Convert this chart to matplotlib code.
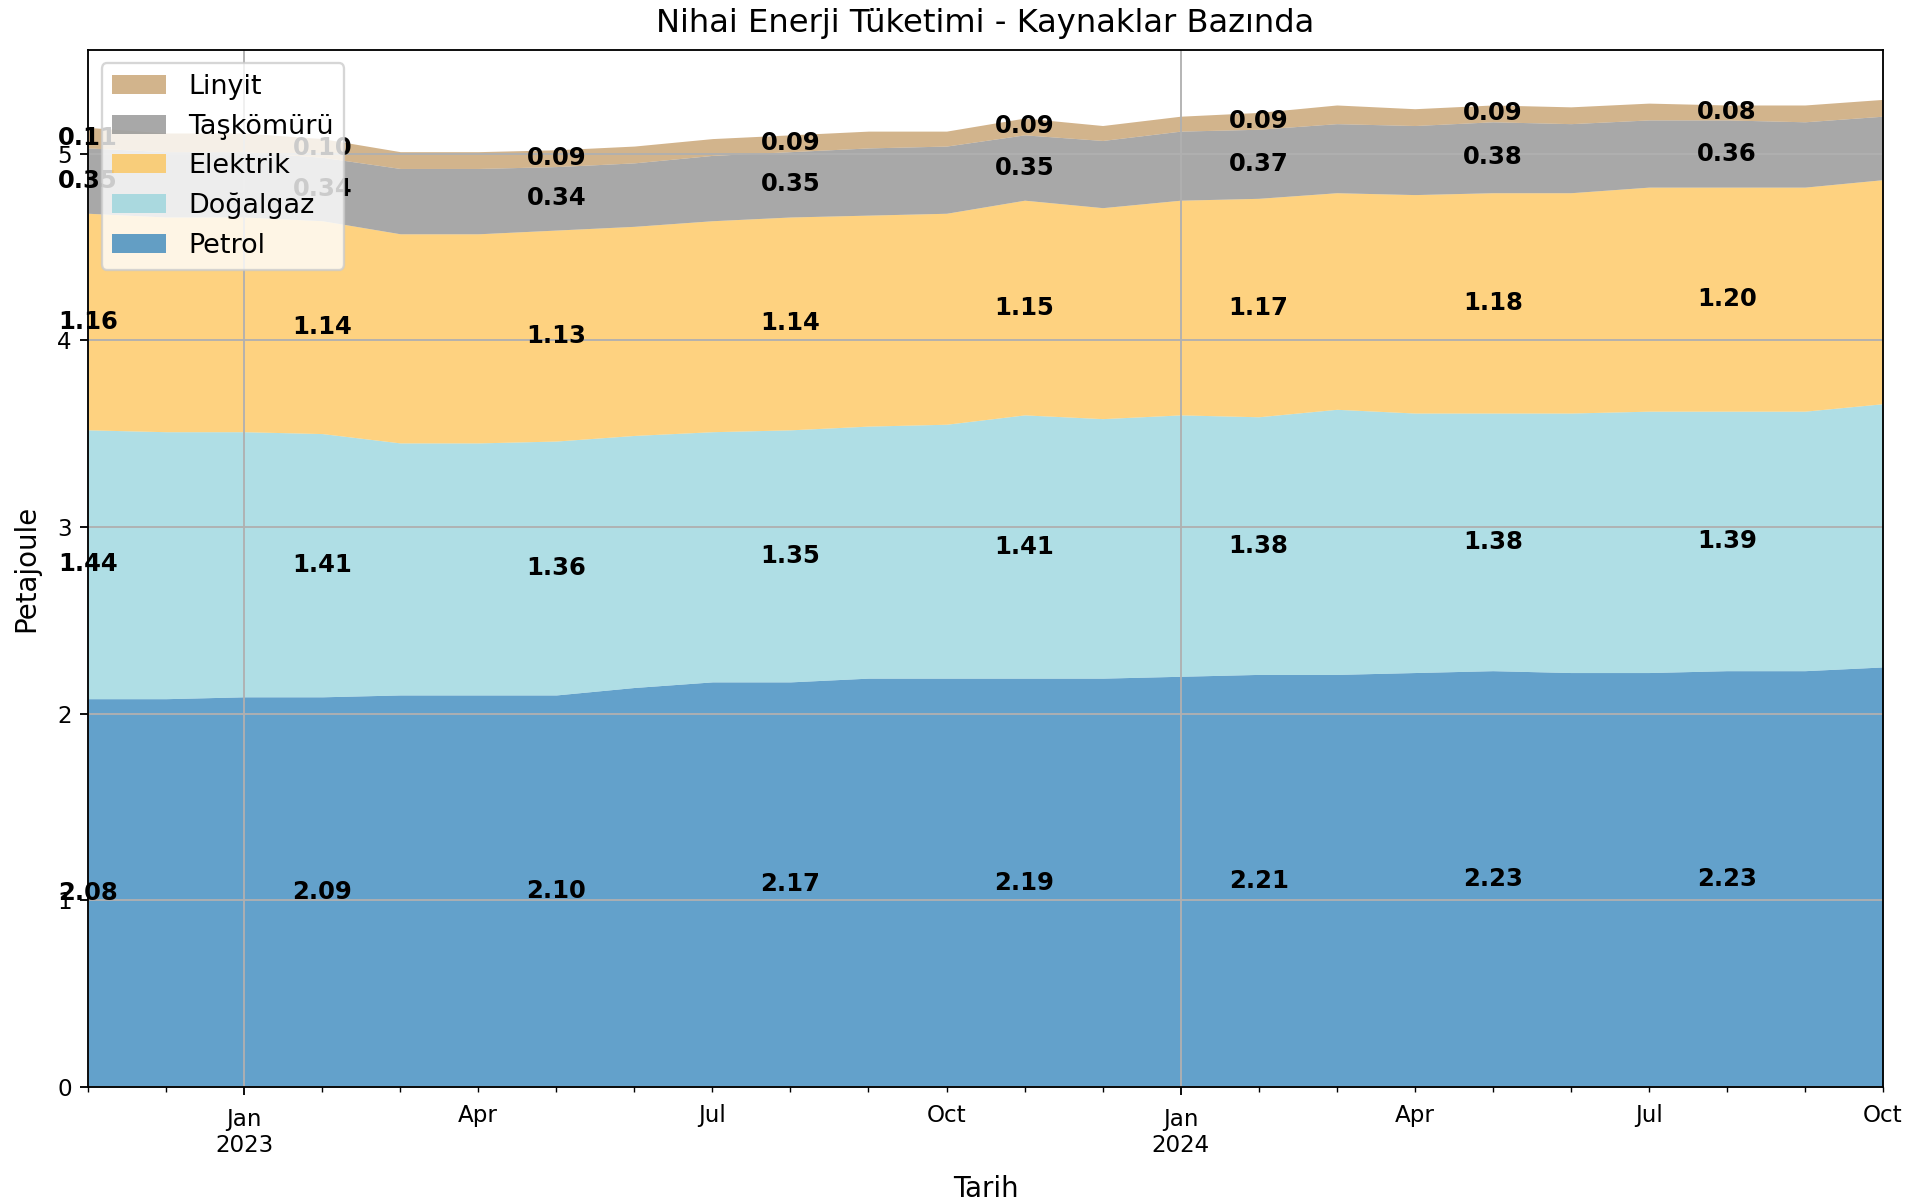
import pandas as pd
import matplotlib
matplotlib.use("Agg")
import matplotlib.pyplot as plt

# aylik veriler (Petajoule), Kasim 2022 - Ekim 2024
months = pd.period_range("2022-11", periods=24, freq="M")

petrol = [2.08, 2.08, 2.09, 2.09, 2.10, 2.10, 2.10, 2.14, 2.17, 2.17, 2.19, 2.19,
          2.19, 2.19, 2.20, 2.21, 2.21, 2.22, 2.23, 2.22, 2.22, 2.23, 2.23, 2.25]
dogalgaz = [1.44, 1.43, 1.42, 1.41, 1.35, 1.35, 1.36, 1.35, 1.34, 1.35, 1.35, 1.36,
            1.41, 1.39, 1.40, 1.38, 1.42, 1.39, 1.38, 1.39, 1.40, 1.39, 1.39, 1.41]
elektrik = [1.16, 1.15, 1.15, 1.14, 1.12, 1.12, 1.13, 1.12, 1.13, 1.14, 1.13, 1.13,
            1.15, 1.13, 1.15, 1.17, 1.16, 1.17, 1.18, 1.18, 1.20, 1.20, 1.20, 1.20]
taskomuru = [0.35, 0.35, 0.35, 0.34, 0.35, 0.35, 0.34, 0.34, 0.35, 0.35, 0.36, 0.36,
             0.35, 0.36, 0.37, 0.37, 0.37, 0.37, 0.38, 0.37, 0.36, 0.36, 0.35, 0.34]
linyit = [0.11, 0.10, 0.10, 0.10, 0.09, 0.09, 0.09, 0.09, 0.09, 0.09, 0.09, 0.08,
          0.09, 0.08, 0.08, 0.09, 0.10, 0.09, 0.09, 0.09, 0.09, 0.08, 0.09, 0.09]

sources = ["Petrol", "Doğalgaz", "Elektrik", "Taşkömürü", "Linyit"]
colors = ["#2179b6", "#8ed1da", "#fec04a", "#848484", "#c0945b"]

df = pd.DataFrame(
    {"Petrol": petrol, "Doğalgaz": dogalgaz, "Elektrik": elektrik,
     "Taşkömürü": taskomuru, "Linyit": linyit},
    index=months,
)

dpi = 166
fig, ax = plt.subplots(figsize=(1923 / dpi, 1199 / dpi), dpi=dpi)
fig.subplots_adjust(left=0.0458, right=0.9792, bottom=0.0934, top=0.9583)

df[sources].plot.area(ax=ax, color=colors, alpha=0.7, linewidth=0, grid=True)

# her 3 ayda bir deger etiketi
xs = ax.get_lines()[0].get_xdata(orig=False)
bottom = [0.0] * len(df)
for src in sources:
    vals = df[src].tolist()
    for i in range(0, len(vals), 3):
        ax.text(xs[i], bottom[i] + vals[i] / 2, f"{vals[i]:.2f}",
                ha="center", va="center", fontsize=10.5, fontweight="bold")
    bottom = [b + v for b, v in zip(bottom, vals)]

handles, labels = ax.get_legend_handles_labels()
ax.legend(handles[::-1], labels[::-1], loc="upper left", fontsize=11.7)

ax.tick_params(axis="x", which="both", pad=5.5)
ax.set_title("Nihai Enerji Tüketimi - Kaynaklar Bazında", fontsize=14, pad=7.6)
ax.set_xlabel("Tarih", fontsize=12, labelpad=7.5)
ax.set_ylabel("Petajoule", fontsize=12, labelpad=7.5)

fig.savefig("out.png", dpi=dpi)
